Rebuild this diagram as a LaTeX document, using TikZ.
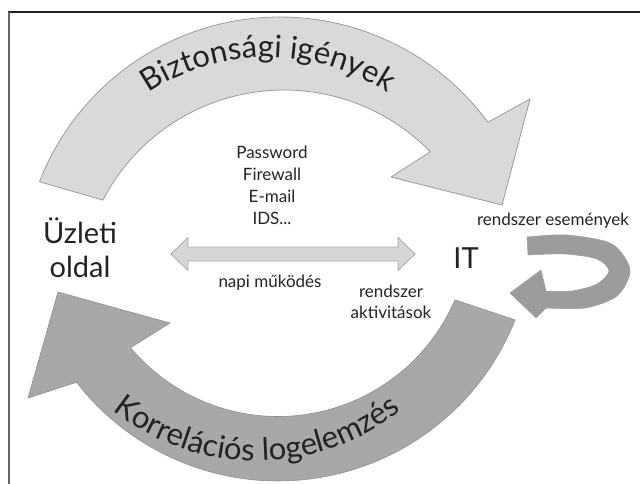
\documentclass[tikz,border=0pt]{standalone}
\usepackage{fontspec}
\setmainfont{Lato}
\usetikzlibrary{decorations.text}
\definecolor{toplight}{HTML}{D9D9D9}
\definecolor{topedge}{HTML}{9A9A9A}
\definecolor{botfill}{HTML}{A8A8A8}
\definecolor{loopfill}{HTML}{9C9C9C}
\definecolor{dblfill}{HTML}{D6D6D6}
\definecolor{dbledge}{HTML}{A8A8A8}
\definecolor{ink}{HTML}{222222}
\begin{document}
\begin{tikzpicture}[x=1pt,y=-1pt,
  small/.style={font=\fontsize{17}{20}\selectfont, text=ink, inner sep=0pt, anchor=base},
  big/.style={font=\fontsize{29}{34}\selectfont, text=ink, inner sep=0pt, anchor=base},
  bandtop/.style={fill=toplight, draw=topedge, line width=0.8pt, line join=round},
  bandbot/.style={fill=botfill, draw=botfill!85!black, line width=0.6pt, line join=round},
  loopband/.style={fill=loopfill, draw=loopfill, line width=0.5pt, line join=round},
  dblband/.style={fill=dblfill, draw=dbledge, line width=0.8pt, line join=round}]
\useasboundingbox (0,0) rectangle (640,484);
% frame
\draw[line width=1.5pt, draw=ink] (8,12) -- (640,12);
\draw[line width=2pt, draw=black!60] (8.7,12) -- (8.7,484);

% top arrow
\path[bandtop] plot[domain=201.2:323.7, samples=70] ({280+258*cos(\x)},{275+258*sin(\x)})
  -- (530,99) -- (502,205) -- (391,177)
  -- plot[domain=315.8:207.4, samples=70] ({284+204*cos(\x)},{294+204*sin(\x)}) -- cycle;
\path[decorate, decoration={text along path, text align=center, text color=ink,
  text={|\fontsize{31}{36}\selectfont|Biztonsági igények}}]
  plot[domain=200:340, samples=90] ({268+217*cos(\x)},{274+217*sin(\x)});

% bottom arrow
\path[bandbot] plot[domain=21.6:142.2, samples=70] ({278+255*cos(\x)},{226+255*sin(\x)})
  -- (28,398) -- (58,292) -- (170,323)
  -- plot[domain=140:23.2, samples=70] ({278+192.5*cos(\x)},{224+192.5*sin(\x)}) -- cycle;
\path[decorate, decoration={text along path, text align=center, text color=ink,
  text={|\fontsize{31}{36}\selectfont|Korrelációs logelemzés}}]
  plot[domain=150:30, samples=90] ({257+232*cos(\x)},{229+232*sin(\x)});

% loop arrow
\path[loopband] plot[smooth] coordinates {(527,237) (567,235) (612,244) (630,270) (617,296) (585,308) (546,308)}
  -- (536,318) -- (510,293) -- (541,270) -- (546,291)
  -- plot[smooth] coordinates {(546,291) (572,291) (597,284) (609,271) (597,259) (565,254) (528,255)} -- cycle;

% double arrow
\path[dblband] (171,254) -- (188,237.5) -- (188,247) -- (398,247) -- (398,237.5) -- (415,254)
  -- (398,270.5) -- (398,261) -- (188,261) -- (188,270.5) -- cycle;

% texts
\node[small] (pw) at (272,158) {Password};
\node[small] (fw) at (272,180) {Firewall};
\node[small] (em) at (272,202) {E-mail};
\node[small] (ids) at (272,224) {IDS...};
\node[big] (uz) at (80,243) {Üzleti};
\node[big] (ol) at (80,277) {oldal};
\node[big] (it) at (466,268) {IT};
\node[small] (napi) at (270,287) {napi működés};
\node[small] (rsz) at (391,297) {rendszer};
\node[small] (akt) at (391,318) {aktivitások};
\node[small] (rse) at (553,225) {rendszer események};
\end{tikzpicture}
\end{document}
